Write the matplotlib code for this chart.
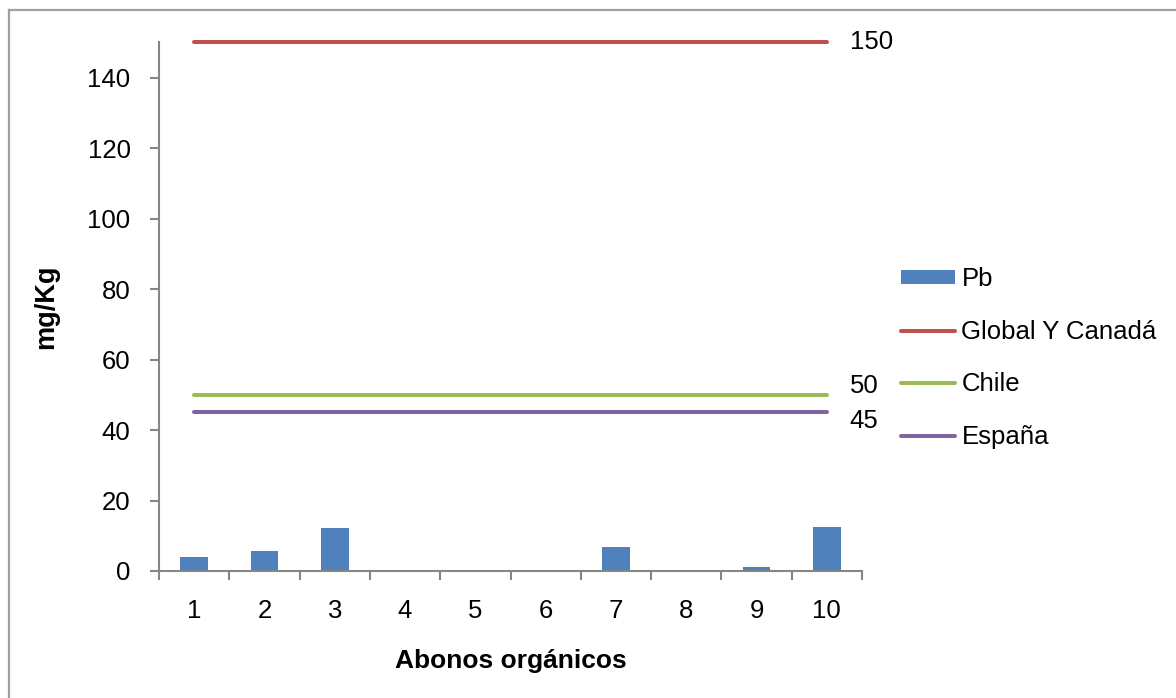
import matplotlib
matplotlib.use("Agg")
import matplotlib.pyplot as plt
from matplotlib.lines import Line2D
import numpy as np

categories = ["1", "2", "3", "4", "5", "6", "7", "8", "9", "10"]
pb_values = [4.0, 5.6, 12.2, 0, 0, 0, 6.9, 0, 1.2, 12.5]
limit_names = ["Global Y Canadá", "Chile", "España"]
limit_values = [150, 50, 45]
limit_colors = ["#C0504D", "#9BBB59", "#8064A2"]
bar_color = "#4F81BD"

plt.rcParams['font.family'] = ["Liberation Sans", "DejaVu Sans"]
FS = 18.5

W, H = 1176, 698
fig = plt.figure(figsize=(W / 100, H / 100), dpi=100)
ax = fig.add_axes([159 / W, 1 - 571 / H, (862 - 159) / W, (571 - 42.3) / H])

x = np.arange(1, len(categories) + 1)
bars = ax.bar(x, pb_values, width=0.394, color=bar_color, label="Pb", zorder=2)

label_offsets = [0, 6, -6]
line_handles = []
for name, val, col, off in zip(limit_names, limit_values, limit_colors, label_offsets):
    ln, = ax.plot([x[0], x[-1]], [val, val], color=col, lw=2.9, label=name,
                  solid_capstyle='round', zorder=3, clip_on=False)
    line_handles.append(ln)
    ax.annotate(str(val), xy=(x[-1], val), xytext=(16.5, off), textcoords='offset points',
                ha='left', va='center', fontsize=FS, color='black', annotation_clip=False)

ax.set_xlim(0.5, len(categories) + 0.5)
ax.set_ylim(0, 150)
ax.set_yticks(np.arange(0, 141, 20))
ax.set_xticks(np.arange(0.5, len(categories) + 1, 1))
ax.set_xticklabels([])
ax.set_xticks(x, minor=True)
ax.set_xticklabels(categories, minor=True)

spine_col = "#868686"
for s in ["top", "right"]:
    ax.spines[s].set_visible(False)
for s in ["left", "bottom"]:
    ax.spines[s].set_color(spine_col)
    ax.spines[s].set_linewidth(1.5)
ax.tick_params(axis='y', which='major', direction='out', length=6.5, width=1.5, color=spine_col,
               labelsize=FS, pad=14)
ax.tick_params(axis='x', which='major', direction='out', length=6.5, width=1.5, color=spine_col)
ax.tick_params(axis='x', which='minor', length=0, labelsize=FS, pad=20)

ax.set_xlabel("Abonos orgánicos", fontsize=19, fontweight='bold', labelpad=19)
ax.set_ylabel("mg/Kg", fontsize=19.5, fontweight='bold', labelpad=20)

handles = [bars] + line_handles
labels = ["Pb"] + limit_names
leg = fig.legend(handles, labels, loc='center left', bbox_to_anchor=(901 / W, 1 - 358 / H),
                 frameon=False, fontsize=FS, handlelength=2.1, handletextpad=0.25,
                 labelspacing=1.12, borderaxespad=0, borderpad=0, handleheight=0.45)

# outer chart border (left and top visible)
fig.add_artist(Line2D([9 / W, 9 / W], [0, 1 - 10 / H], color="#A0A0A0", lw=1.6,
                      transform=fig.transFigure))
fig.add_artist(Line2D([9 / W, 1], [1 - 10 / H, 1 - 10 / H], color="#A0A0A0", lw=1.6,
                      transform=fig.transFigure))

fig.savefig("out.png", dpi=100, facecolor="white")
